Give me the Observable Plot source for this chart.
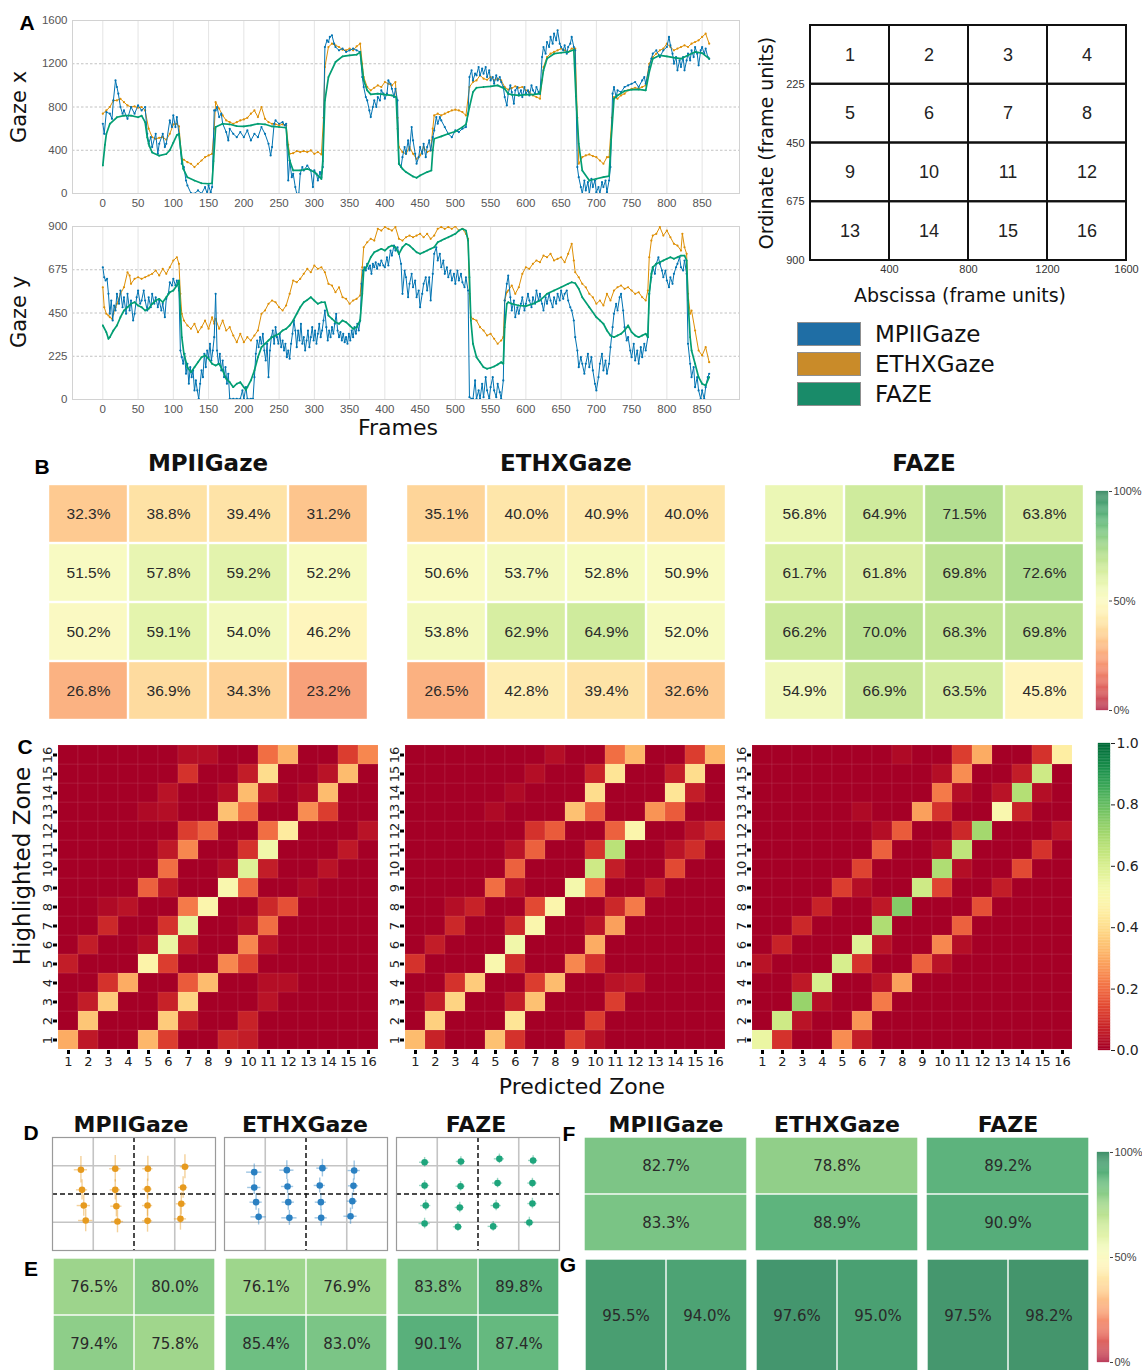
<!DOCTYPE html>
<html>
<head>
<meta charset="utf-8">
<script src="https://cdn.jsdelivr.net/npm/d3@7"></script>
<script src="https://cdn.jsdelivr.net/npm/@observablehq/plot@0.6"></script>
<style>
  html, body { margin: 0; padding: 0; background: #fff; }
  #fig { position: relative; width: 1142px; height: 1370px; overflow: hidden; background: #fff; }
  .t { position: absolute; line-height: 1; white-space: nowrap; color: #111; }
  .sw { position: absolute; width: 62px; height: 22px; border: 1px solid #8f8f8f; }
</style>
</head>
<body>
<div id="fig"></div>
<script>
// ---------- shared categories ----------
const models = ["MPIIGaze", "ETHXGaze", "FAZE"];
const zones = [1, 2, 3, 4, 5, 6, 7, 8, 9, 10, 11, 12, 13, 14, 15, 16];
const frameTicks = [0, 50, 100, 150, 200, 250, 300, 350, 400, 450, 500, 550, 600, 650, 700, 750, 800, 850];
const gazeXTicks = [0, 400, 800, 1200, 1600];
const gazeYTicks = [0, 225, 450, 675, 900];
const xEdges = [0, 400, 800, 1200, 1600];
const yEdges = [0, 225, 450, 675, 900];
const lineColors = {MPIIGaze: "#0173b2", ETHXGaze: "#de8f05", FAZE: "#029e73"};
const swatchColors = {MPIIGaze: "#1f6ea5", ETHXGaze: "#c98b29", FAZE: "#198b69"};
const plain = d => String(d);

// ---------- A: gaze traces, [frame, value] ----------
const mpiiX = [[0,645],[2,552],[5,753],[10,738],[13,691],[15,861],[18,1046],[20,985],[22,923],[25,800],[28,738],[30,768],[35,691],[40,800],[45,738],[50,815],[55,768],[60,800],[63,552],[65,460],[68,521],[70,429],[75,552],[78,367],[80,460],[85,552],[88,429],[90,460],[95,676],[98,614],[100,722],[103,614],[105,707],[108,552],[112,275],[115,244],[118,120],[120,74],[125,3],[130,0],[135,28],[140,0],[145,59],[148,0],[150,74],[153,12],[155,59],[158,768],[160,768],[162,800],[165,707],[168,738],[170,645],[175,568],[178,491],[180,599],[185,552],[190,521],[195,568],[200,521],[205,583],[210,491],[215,552],[220,521],[225,614],[230,552],[235,460],[238,352],[240,429],[243,645],[245,676],[250,645],[255,660],[258,630],[260,645],[263,120],[265,305],[268,151],[270,182],[273,59],[275,0],[278,0],[280,182],[283,244],[285,213],[290,259],[295,213],[298,59],[300,213],[303,182],[305,120],[308,198],[310,151],[312,244],[315,1355],[318,1417],[320,1401],[322,1448],[325,1463],[328,1386],[330,1355],[335,1324],[340,1340],[345,1309],[350,1324],[355,1340],[360,1324],[365,1309],[368,1077],[370,985],[373,892],[375,861],[378,768],[380,707],[383,800],[385,861],[388,800],[390,892],[393,861],[395,954],[398,923],[400,877],[403,923],[405,1046],[408,1015],[410,969],[413,892],[415,969],[418,861],[420,275],[423,244],[425,336],[428,429],[430,367],[433,491],[435,398],[438,614],[440,491],[443,367],[445,275],[448,336],[450,429],[453,367],[455,460],[458,336],[460,429],[463,491],[465,398],[468,521],[470,583],[473,707],[475,645],[478,707],[480,676],[485,614],[490,552],[495,521],[500,583],[505,568],[510,599],[515,614],[518,738],[520,1077],[523,1139],[525,1046],[528,1108],[530,1093],[533,1170],[535,1093],[538,1154],[540,1108],[543,1170],[545,1077],[548,1139],[550,1046],[553,1077],[555,1015],[558,1093],[560,1046],[563,1077],[565,1031],[568,985],[570,892],[573,815],[575,923],[578,1000],[580,938],[583,830],[585,954],[588,985],[590,907],[593,954],[595,892],[598,985],[600,923],[603,954],[605,907],[608,1000],[610,954],[613,923],[615,985],[618,938],[620,923],[623,1262],[625,1355],[628,1293],[630,1401],[633,1355],[635,1448],[638,1386],[640,1478],[643,1417],[645,1509],[648,1386],[650,1355],[653,1324],[655,1370],[658,1293],[660,1355],[663,1386],[665,1448],[668,1355],[670,1324],[673,244],[675,151],[678,59],[680,0],[683,120],[685,28],[688,105],[690,0],[693,136],[695,59],[698,120],[700,12],[703,59],[705,0],[708,105],[710,59],[713,120],[715,12],[718,120],[720,244],[723,923],[725,985],[728,892],[730,954],[735,938],[740,985],[745,1000],[750,1015],[755,1031],[760,985],[765,1046],[768,1077],[770,1015],[775,1170],[778,1247],[780,1293],[785,1324],[790,1262],[795,1324],[800,1355],[803,1448],[805,1370],[808,1293],[810,1200],[813,1262],[815,1139],[818,1231],[820,1170],[823,1262],[825,1139],[828,1231],[830,1293],[833,1231],[835,1324],[838,1262],[840,1355],[843,1293],[845,1185],[848,1324],[850,1355],[853,1293],[855,1340],[858,1262],[860,1247]];
const ethX = [[0,738],[5,768],[10,800],[15,860],[20,861],[25,876],[30,845],[35,815],[40,800],[45,805],[50,793],[55,800],[60,768],[65,600],[70,520],[75,506],[80,515],[85,522],[90,497],[95,552],[100,640],[105,645],[108,620],[112,321],[115,312],[120,290],[125,275],[130,244],[135,275],[140,305],[145,336],[150,352],[155,367],[158,600],[160,845],[165,785],[170,722],[175,676],[180,660],[185,645],[190,660],[195,676],[200,685],[205,700],[210,738],[215,768],[220,707],[225,800],[230,691],[235,660],[240,645],[245,640],[250,630],[255,640],[260,630],[263,450],[265,367],[270,373],[275,392],[280,383],[285,392],[290,383],[295,398],[300,367],[305,383],[310,361],[313,700],[315,1170],[320,1355],[325,1386],[330,1370],[335,1355],[340,1330],[345,1324],[350,1340],[355,1324],[360,1361],[365,1386],[368,1200],[370,1077],[375,985],[380,954],[385,978],[390,1000],[395,985],[400,1031],[405,1015],[410,1000],[415,1031],[418,700],[420,429],[425,383],[430,367],[435,429],[440,367],[445,321],[450,352],[455,429],[460,383],[465,398],[468,600],[470,722],[475,738],[480,722],[485,738],[490,753],[495,768],[500,775],[505,768],[510,753],[515,722],[520,985],[525,1031],[530,1046],[535,1093],[540,1062],[545,1052],[550,1077],[555,1046],[560,1062],[565,1046],[570,985],[575,960],[580,975],[585,991],[590,978],[595,985],[600,954],[605,938],[610,907],[615,892],[620,877],[623,1050],[625,1170],[630,1262],[635,1293],[640,1309],[645,1324],[650,1340],[655,1324],[660,1309],[665,1340],[670,1340],[673,700],[675,275],[680,336],[685,352],[690,361],[695,346],[700,336],[705,305],[710,275],[715,336],[718,336],[722,700],[725,892],[730,877],[735,907],[740,923],[745,954],[750,969],[755,978],[760,969],[765,985],[770,1000],[775,1200],[780,1262],[785,1293],[790,1324],[795,1340],[800,1386],[805,1355],[810,1324],[815,1340],[820,1355],[825,1370],[830,1355],[835,1386],[840,1401],[845,1417],[850,1448],[855,1478],[860,1386]];
const fazeX = [[0,260],[3,450],[5,550],[10,645],[20,705],[30,720],[40,720],[50,705],[55,720],[60,660],[63,520],[66,440],[70,380],[80,350],[90,365],[95,400],[100,470],[105,540],[108,550],[111,380],[114,230],[120,150],[130,120],[140,95],[150,90],[155,95],[157,300],[160,615],[170,645],[180,640],[190,623],[200,620],[210,630],[220,645],[230,640],[240,620],[250,615],[260,608],[262,450],[265,305],[270,213],[280,213],[290,228],[300,198],[310,135],[312,300],[315,860],[320,1077],[330,1216],[340,1268],[350,1278],[360,1284],[365,1308],[368,1150],[370,1046],[375,954],[380,917],[390,923],[400,914],[410,907],[416,892],[418,600],[420,275],[425,228],[430,198],[440,157],[445,145],[450,167],[460,198],[466,213],[468,400],[470,506],[480,528],[490,552],[500,574],[510,614],[515,639],[520,799],[525,938],[530,978],[540,985],[550,991],[560,1000],[570,969],[575,923],[580,914],[590,907],[600,914],[610,914],[620,923],[625,1139],[630,1247],[640,1293],[650,1302],[660,1309],[668,1330],[671,900],[675,460],[680,213],[690,120],[700,136],[710,151],[718,160],[721,500],[725,877],[730,907],[740,948],[750,960],[760,963],[770,954],[775,1123],[780,1247],[790,1278],[800,1268],[810,1256],[820,1247],[830,1278],[840,1309],[850,1299],[860,1247]];

const mpiiY = [[0,688],[2,636],[4,619],[6,628],[8,550],[10,446],[12,515],[14,411],[16,489],[18,463],[20,550],[23,498],[25,567],[28,480],[30,532],[33,446],[35,550],[38,463],[40,515],[43,411],[45,446],[48,532],[50,567],[53,498],[55,515],[58,567],[60,515],[63,463],[65,532],[68,480],[70,550],[73,498],[75,532],[78,480],[80,515],[83,463],[85,498],[88,428],[90,524],[93,550],[95,610],[98,593],[100,628],[103,593],[105,619],[108,567],[110,255],[112,220],[114,186],[116,238],[118,134],[120,186],[122,82],[124,168],[126,116],[128,151],[130,47],[132,99],[134,47],[136,3],[138,82],[140,151],[142,116],[144,238],[146,168],[148,255],[150,220],[152,290],[154,203],[156,255],[158,324],[160,550],[162,255],[164,186],[166,238],[168,151],[170,203],[172,116],[174,168],[176,82],[178,134],[180,3],[185,3],[190,3],[195,3],[198,47],[200,3],[203,64],[205,3],[210,3],[213,3],[215,116],[217,238],[219,307],[221,272],[223,324],[225,290],[227,342],[229,255],[231,203],[233,290],[235,116],[237,255],[239,324],[241,359],[243,290],[245,376],[247,324],[249,290],[251,342],[253,272],[255,307],[257,255],[259,290],[261,220],[263,255],[265,212],[267,290],[269,342],[271,411],[273,359],[275,272],[277,359],[279,307],[281,394],[283,290],[285,324],[287,255],[289,307],[291,359],[293,272],[295,324],[297,376],[299,307],[301,359],[303,290],[305,342],[307,394],[309,324],[311,359],[313,411],[315,463],[317,376],[319,307],[321,359],[323,324],[325,376],[327,342],[329,394],[331,446],[333,359],[335,324],[337,350],[339,307],[341,342],[343,298],[345,324],[347,290],[349,342],[351,307],[353,359],[355,324],[357,376],[359,342],[361,394],[363,359],[365,411],[367,602],[369,671],[371,688],[373,671],[375,706],[377,680],[379,697],[381,654],[383,706],[385,688],[387,714],[389,680],[391,706],[393,697],[395,723],[398,697],[400,688],[403,740],[405,697],[408,775],[410,749],[413,801],[415,775],[418,792],[420,758],[423,706],[425,550],[428,671],[430,636],[433,532],[435,602],[438,654],[440,584],[443,619],[445,532],[448,567],[450,480],[453,550],[455,602],[458,636],[460,567],[463,636],[465,515],[468,654],[470,758],[473,792],[475,723],[478,758],[480,688],[483,723],[485,654],[488,688],[490,636],[493,671],[495,619],[498,654],[500,602],[503,671],[505,619],[508,654],[510,610],[513,584],[515,636],[518,567],[520,12],[523,3],[525,3],[528,99],[530,3],[533,47],[535,3],[538,82],[540,12],[543,116],[545,47],[548,3],[550,64],[553,116],[555,47],[558,12],[560,82],[563,38],[565,3],[568,99],[570,515],[573,602],[575,645],[578,532],[580,463],[583,515],[585,428],[588,480],[590,446],[593,498],[595,532],[598,463],[600,498],[603,550],[605,515],[608,480],[610,532],[613,498],[615,567],[618,515],[620,550],[623,498],[625,463],[628,532],[630,498],[633,550],[635,515],[638,480],[640,532],[643,498],[645,550],[648,515],[650,567],[653,524],[655,550],[658,567],[660,515],[663,480],[665,463],[668,411],[670,324],[673,255],[675,168],[678,220],[680,186],[683,134],[685,186],[688,238],[690,168],[693,220],[695,151],[698,82],[700,47],[703,116],[705,186],[708,238],[710,151],[713,203],[715,134],[718,186],[720,272],[723,376],[725,446],[728,498],[730,463],[733,532],[735,550],[738,463],[740,376],[743,307],[745,324],[748,255],[750,220],[753,290],[755,203],[758,255],[760,186],[763,272],[765,220],[768,290],[770,255],[773,324],[775,550],[778,636],[780,688],[783,654],[785,706],[788,740],[790,706],[793,671],[795,636],[798,671],[800,619],[803,584],[805,636],[808,602],[810,654],[813,688],[815,706],[818,740],[820,688],[823,671],[825,723],[828,654],[830,290],[833,186],[835,116],[838,168],[840,64],[843,116],[845,47],[848,3],[850,47],[853,3],[855,64],[858,116],[860,134]];
const ethY = [[0,584],[2,480],[5,446],[8,437],[10,428],[13,420],[15,446],[18,480],[20,498],[25,550],[30,584],[35,662],[38,645],[40,602],[45,628],[50,636],[55,628],[60,636],[65,645],[70,654],[75,671],[80,645],[85,680],[90,654],[95,688],[100,723],[105,740],[108,706],[110,550],[112,446],[115,411],[120,385],[125,368],[130,394],[135,350],[140,376],[145,411],[150,368],[155,428],[158,394],[160,420],[165,368],[170,411],[175,359],[180,376],[185,333],[190,298],[195,342],[200,298],[205,324],[210,307],[215,333],[220,359],[225,446],[230,463],[235,498],[240,515],[245,506],[250,480],[255,463],[260,489],[265,550],[270,619],[275,610],[280,628],[285,654],[290,680],[295,662],[300,697],[305,680],[310,688],[315,662],[320,602],[325,593],[330,558],[335,584],[340,532],[345,524],[350,498],[355,515],[360,524],[365,541],[368,688],[370,792],[375,818],[380,836],[385,827],[390,888],[395,879],[400,897],[405,888],[410,879],[415,897],[420,836],[425,827],[430,844],[435,853],[440,844],[445,853],[450,862],[455,844],[460,862],[465,836],[470,853],[475,888],[480,897],[485,888],[490,897],[495,888],[500,900],[505,879],[510,888],[515,862],[518,836],[520,550],[522,428],[525,420],[530,411],[535,376],[540,359],[545,333],[550,342],[555,316],[560,290],[565,307],[568,324],[570,515],[573,558],[575,567],[580,593],[585,550],[590,584],[595,654],[600,688],[605,680],[610,706],[615,723],[620,714],[625,749],[630,740],[635,758],[640,723],[645,732],[650,740],[655,714],[660,758],[665,810],[668,723],[670,662],[675,636],[680,602],[685,584],[690,550],[695,532],[700,498],[705,515],[710,489],[715,550],[720,515],[725,567],[730,584],[735,593],[740,576],[745,584],[750,567],[755,550],[760,558],[765,532],[770,515],[773,567],[775,740],[778,827],[780,853],[785,862],[790,897],[795,853],[800,879],[805,844],[810,810],[815,801],[820,775],[822,862],[825,792],[828,758],[830,550],[833,446],[835,463],[840,359],[845,255],[850,229],[855,272],[860,194]];
const fazeY = [[0,385],[5,350],[8,316],[10,324],[15,359],[20,385],[25,428],[30,463],[35,480],[40,498],[45,506],[50,489],[55,480],[60,463],[65,472],[70,498],[75,515],[80,524],[85,506],[90,532],[95,558],[100,567],[105,593],[108,619],[110,463],[112,324],[115,238],[120,168],[125,142],[130,168],[135,194],[140,220],[145,229],[150,212],[155,186],[160,177],[165,186],[170,151],[175,108],[180,90],[185,64],[190,82],[195,90],[200,64],[203,50],[205,64],[210,99],[215,151],[220,220],[225,272],[230,290],[235,307],[240,324],[245,333],[250,342],[255,359],[260,368],[265,385],[270,411],[275,446],[280,480],[285,506],[290,518],[295,532],[300,515],[305,498],[310,506],[315,506],[320,437],[325,420],[330,402],[335,394],[340,411],[345,402],[350,385],[355,368],[360,376],[365,411],[368,550],[370,671],[375,697],[380,740],[385,766],[390,775],[395,784],[400,775],[405,792],[410,801],[415,792],[420,758],[425,792],[430,810],[435,801],[440,784],[445,766],[450,758],[455,766],[460,775],[465,784],[470,792],[475,818],[480,827],[485,836],[490,844],[495,853],[500,862],[505,879],[510,888],[515,879],[518,827],[520,636],[522,411],[525,290],[530,220],[535,194],[540,168],[545,160],[550,165],[555,172],[560,182],[565,194],[568,186],[570,376],[573,498],[575,506],[580,498],[590,489],[600,486],[610,498],[620,515],[630,550],[640,567],[650,584],[660,602],[665,610],[670,605],[675,576],[680,532],[690,480],[700,428],[705,411],[710,394],[715,359],[720,333],[725,324],[730,333],[735,342],[740,359],[745,385],[750,350],[755,333],[760,324],[765,333],[770,342],[773,324],[775,550],[778,654],[780,688],[785,706],[790,714],[795,723],[800,732],[805,740],[810,732],[815,740],[820,749],[825,749],[828,723],[830,515],[833,324],[835,255],[840,186],[845,116],[850,82],[855,73],[860,116]];

// ---------- B: per-zone accuracy (%), rows top to bottom ----------
const zoneAccMPII = [[32.3, 38.8, 39.4, 31.2], [51.5, 57.8, 59.2, 52.2], [50.2, 59.1, 54.0, 46.2], [26.8, 36.9, 34.3, 23.2]];
const zoneAccETHX = [[35.1, 40.0, 40.9, 40.0], [50.6, 53.7, 52.8, 50.9], [53.8, 62.9, 64.9, 52.0], [26.5, 42.8, 39.4, 32.6]];
const zoneAccFAZE = [[56.8, 64.9, 71.5, 63.8], [61.7, 61.8, 69.8, 72.6], [66.2, 70.0, 68.3, 69.8], [54.9, 66.9, 63.5, 45.8]];

// ---------- C: confusion matrices (%), row = highlighted zone 1..16, col = predicted zone 1..16 ----------
const confMPII = [
  [30,5,0,0,32,12,0,0,8,6,0,0,0,0,0,0],
  [0,35,0,0,0,36,6,0,0,7,0,0,0,0,0,0],
  [0,6,36,0,0,7,38,0,0,0,4,0,0,0,0,0],
  [0,0,10,30,0,0,17,33,0,0,3,3,0,0,0,0],
  [6,0,0,0,47,12,0,0,24,13,0,0,0,0,0,0],
  [0,6,0,0,3,55,6,0,0,24,4,0,0,0,0,0],
  [0,0,8,0,0,10,56,0,0,3,20,0,0,0,0,0],
  [0,0,2,4,0,0,22,48,0,0,8,15,0,0,0,0],
  [0,0,0,0,18,5,0,0,50,18,0,0,2,0,0,0],
  [0,0,0,0,0,20,0,0,3,58,6,0,0,4,0,0],
  [0,0,0,0,0,5,24,0,0,10,53,0,0,0,5,0],
  [0,0,0,0,0,0,12,18,0,0,20,44,0,0,0,4],
  [0,0,0,0,2,3,0,0,34,20,0,0,25,12,0,0],
  [0,0,0,0,0,4,0,0,3,33,5,0,2,33,0,0],
  [0,0,0,0,0,0,10,0,0,6,40,0,0,4,33,0],
  [0,0,0,0,0,0,3,3,0,0,20,31,0,0,12,24]
];
const confETHX = [
  [33,7,0,0,34,10,0,0,12,4,0,0,0,0,0,0],
  [0,37,0,0,0,42,0,0,0,12,0,0,0,0,0,0],
  [0,6,38,0,0,6,34,0,0,0,12,0,0,0,0,0],
  [0,0,10,36,0,0,12,33,0,0,4,5,0,0,0,0],
  [10,0,0,0,50,9,0,0,24,10,0,0,0,0,0,0],
  [0,6,0,0,0,53,0,0,0,30,0,0,0,0,0,0],
  [0,0,8,0,0,8,49,0,0,4,28,0,0,0,0,0],
  [0,0,3,7,0,0,14,48,0,0,8,22,0,0,0,0],
  [0,0,0,0,20,4,0,0,52,20,0,0,6,0,0,0],
  [0,0,0,0,0,18,0,0,0,62,6,0,0,14,0,0],
  [0,0,0,0,0,4,18,0,0,10,66,0,0,4,9,0],
  [0,0,0,0,0,0,10,17,0,0,18,48,0,0,4,8],
  [0,0,0,0,2,0,0,0,34,18,0,0,26,17,0,0],
  [0,0,0,0,0,2,0,0,0,40,0,0,0,42,6,0],
  [0,0,0,0,0,0,3,0,0,7,42,0,0,6,40,0],
  [0,0,0,0,0,0,0,3,0,0,20,32,0,0,12,32]
];
const confFAZE = [
  [55,10,0,0,25,6,0,0,0,0,0,0,0,0,0,0],
  [0,62,4,0,0,26,0,0,0,0,0,0,0,0,0,0],
  [0,0,72,3,0,0,22,0,0,0,0,0,0,0,0,0],
  [0,0,5,60,0,0,4,28,0,0,0,0,0,0,0,0],
  [4,0,0,0,60,10,0,0,18,4,0,0,0,0,0,0],
  [0,7,0,0,0,58,4,0,0,24,3,0,0,0,0,0],
  [0,0,8,0,0,0,68,0,0,0,18,0,0,0,0,0],
  [0,0,0,7,0,0,5,75,0,0,0,15,0,0,0,0],
  [0,0,0,0,12,3,0,0,62,13,0,0,6,0,0,0],
  [0,0,0,0,0,13,0,0,0,68,3,0,0,14,0,0],
  [0,0,0,0,0,0,18,0,0,3,65,0,0,0,10,0],
  [0,0,0,0,0,0,3,17,0,0,8,70,0,0,0,4],
  [0,0,0,0,0,2,0,0,28,10,0,0,50,7,0,0],
  [0,0,0,0,0,0,0,0,0,22,3,0,4,67,3,0],
  [0,0,0,0,0,0,0,0,0,3,25,0,0,6,62,0],
  [0,0,0,0,0,0,0,2,0,0,12,30,0,0,10,45]
];

// ---------- D: mean gaze per zone with spread, [x, y, ex, ey] in screen px ----------
const meanMPII = [[279,257,65,105],[616,249,55,105],[936,249,50,100],[1300,233,45,95],[290,417,55,80],[616,417,50,80],[933,411,45,80],[1282,398,45,85],[307,542,65,85],[627,547,55,85],[933,542,50,85],[1264,528,50,90],[326,661,70,90],[638,669,60,90],[933,664,50,90],[1256,648,60,90]];
const meanETHX = [[292,276,75,65],[612,260,70,75],[961,244,55,70],[1273,263,60,75],[292,398,65,55],[619,390,60,55],[935,382,55,60],[1266,385,50,55],[310,515,60,65],[626,515,60,65],[946,515,55,65],[1255,507,50,65],[335,632,75,65],[637,640,75,60],[949,640,60,65],[1237,627,65,65]];
const meanFAZE = [[276,197,50,38],[632,191,45,38],[1010,170,50,38],[1341,183,45,38],[276,382,50,38],[629,388,45,38],[992,363,50,38],[1334,363,45,38],[287,542,50,42],[621,557,45,42],[978,542,50,42],[1334,526,45,42],[276,685,55,42],[603,711,45,38],[949,708,50,38],[1304,677,45,42]];
const meanColors = {MPIIGaze: "#e69a1e", ETHXGaze: "#2a80c2", FAZE: "#1ea57c"};
const quarterX = [400, 1200], halfX = [800], quarterY = [225, 675], halfY = [450];

// ---------- E, F, G: coarse-zone accuracy (%) ----------
const quadMPII = [[76.5, 80.0], [79.4, 75.8]];
const quadETHX = [[76.1, 76.9], [85.4, 83.0]];
const quadFAZE = [[83.8, 89.8], [90.1, 87.4]];
const rowsMPII = [[82.7], [83.3]];
const rowsETHX = [[78.8], [88.9]];
const rowsFAZE = [[89.2], [90.9]];
const colsMPII = [[95.5, 94.0]];
const colsETHX = [[97.6, 95.0]];
const colsFAZE = [[97.5, 98.2]];

// ---------- helpers ----------
const fig = document.getElementById("fig");
function place(node, left, top) {
  Object.assign(node.style, {position: "absolute", left: left + "px", top: top + "px", background: "transparent", overflow: "visible", maxWidth: "none"});
  fig.appendChild(node);
  return node;
}
function label(str, cx, cy, {size = 20, weight = "normal", family = "DejaVu Sans, sans-serif", rotate = 0, color = "#111"} = {}) {
  const d = document.createElement("div");
  d.className = "t";
  d.textContent = str;
  Object.assign(d.style, {left: cx + "px", top: cy + "px", fontSize: size + "px", fontWeight: weight, fontFamily: family, color,
    transform: `translate(-50%,-50%) rotate(${rotate}deg)`});
  fig.appendChild(d);
}
const panelFont = "Liberation Sans, Arial, sans-serif";
function panelLetter(ch, cx, cy) { label(ch, cx, cy, {size: 21, weight: "bold", family: panelFont, color: "#000"}); }

// soft RdYlGn: the diverging scheme laid over white at 75%
const softRdYlGn = t => d3.interpolateRgb("#ffffff", d3.interpolateRdYlGn(t))(0.75);

// ---------- A: gaze traces ----------
function gazePanel(series, yTicks, height, mt, mb) {
  return Plot.plot({
    width: 745, height, marginLeft: 72, marginRight: 6, marginTop: mt, marginBottom: mb,
    style: {fontFamily: panelFont, fontSize: "11.5px", color: "#555"},
    x: {domain: [-43, 903]},
    y: {domain: [0, yTicks[yTicks.length - 1]]},
    marks: [
      Plot.gridX(frameTicks, {stroke: "#e4e4e4", strokeOpacity: 1}),
      Plot.gridY(yTicks, {stroke: "#c2c2c2", strokeOpacity: 1, strokeDasharray: "2.5,2"}),
      Plot.frame({stroke: "#d2d2d2"}),
      Plot.axisX(frameTicks, {tickSize: 0, tickPadding: 5, tickFormat: plain, label: null}),
      Plot.axisY(yTicks, {tickSize: 0, tickPadding: 5, tickFormat: plain, label: null}),
      ...series.flatMap(s => [
        Plot.line(s.data, {x: d => d[0], y: d => d[1], stroke: lineColors[s.model], strokeWidth: s.w, clip: true}),
        Plot.dot(s.data, {x: d => d[0], y: d => d[1], r: s.r, fill: lineColors[s.model], stroke: null, clip: true})
      ])
    ]
  });
}
place(gazePanel([
  {model: "ETHXGaze", data: ethX, w: 1, r: 1.1},
  {model: "MPIIGaze", data: mpiiX, w: 1, r: 1.1},
  {model: "FAZE", data: fazeX, w: 1.7, r: 0.9}
], gazeXTicks, 215, 20, 22), 0, 0);
place(gazePanel([
  {model: "ETHXGaze", data: ethY, w: 1, r: 1.1},
  {model: "MPIIGaze", data: mpiiY, w: 1, r: 1.1},
  {model: "FAZE", data: fazeY, w: 1.7, r: 0.9}
], gazeYTicks, 214, 20, 21), 0, 206);
panelLetter("A", 27, 22);
label("Gaze x", 19, 107, {size: 21, rotate: -90});
label("Gaze y", 19, 312, {size: 21, rotate: -90});
label("Frames", 398, 428, {size: 22});

// screen zone layout
const zoneRects = zones.map(z => {
  const c = (z - 1) % 4, r = Math.floor((z - 1) / 4);
  return {zone: z, x1: xEdges[c], x2: xEdges[c + 1], y1: yEdges[r], y2: yEdges[r + 1]};
});
place(Plot.plot({
  width: 397, height: 300, marginLeft: 65, marginRight: 16, marginTop: 25, marginBottom: 40,
  style: {fontFamily: panelFont, fontSize: "11px", color: "#333"},
  x: {domain: [0, 1600]},
  y: {domain: [0, 900], reverse: true},
  marks: [
    Plot.rect(zoneRects, {x1: "x1", x2: "x2", y1: "y1", y2: "y2", fill: "none", stroke: "#111", strokeWidth: 2}),
    Plot.text(zoneRects, {x: d => (d.x1 + d.x2) / 2, y: d => (d.y1 + d.y2) / 2, text: d => String(d.zone), fontSize: 18, fill: "#222"}),
    Plot.axisX(xEdges.slice(1), {tickSize: 0, tickPadding: 5, tickFormat: plain, label: null}),
    Plot.axisY(yEdges.slice(1), {tickSize: 0, tickPadding: 6, tickFormat: plain, label: null})
  ]
}), 745, 0);
label("Ordinate (frame units)", 766, 143, {size: 19, rotate: -90});
label("Abscissa (frame units)", 960, 295, {size: 19});

// legend
models.forEach((m, i) => {
  const sw = document.createElement("div");
  sw.className = "sw";
  Object.assign(sw.style, {left: "797px", top: (322 + i * 30) + "px", background: swatchColors[m]});
  fig.appendChild(sw);
  const t = document.createElement("div");
  t.className = "t";
  t.textContent = m;
  Object.assign(t.style, {left: "875px", top: (334 + i * 30) + "px", transform: "translateY(-50%)", fontSize: "23px", fontFamily: "DejaVu Sans, sans-serif"});
  fig.appendChild(t);
});

// ---------- percentage heat grids (B, E, F, G) ----------
function pctGrid(rows, width, height, fontSize, fontFamily, inset) {
  const data = rows.flatMap((r, i) => r.map((v, j) => ({row: i, col: j, v})));
  return Plot.plot({
    width, height, margin: 0,
    x: {type: "band", domain: d3.range(rows[0].length), padding: 0, axis: null},
    y: {type: "band", domain: d3.range(rows.length), padding: 0, axis: null},
    color: {type: "linear", domain: [0, 100], interpolate: softRdYlGn},
    marks: [
      Plot.cell(data, {x: "col", y: "row", fill: "v", inset}),
      Plot.text(data, {x: "col", y: "row", text: d => d.v.toFixed(1) + "%", fontSize, fontFamily, fill: "#2a2a2a"})
    ]
  });
}
function pctBar(height) {
  const steps = d3.range(0, 100, 0.5);
  return Plot.plot({
    width: 62, height: height + 16, marginLeft: 0, marginRight: 50, marginTop: 8, marginBottom: 8,
    style: {fontFamily: panelFont, fontSize: "11px", color: "#444"},
    x: {domain: [0, 1], axis: null},
    y: {domain: [0, 100]},
    color: {type: "linear", domain: [0, 100], interpolate: softRdYlGn},
    marks: [
      Plot.rect(steps, {x1: () => 0, x2: () => 1, y1: d => d, y2: d => d + 0.5, fill: d => d, stroke: d => d, strokeWidth: 0.3}),
      Plot.axisY([0, 50, 100], {anchor: "right", tickSize: 3, tickPadding: 2, tickFormat: d => d + "%", label: null})
    ]
  });
}

// ---------- B ----------
panelLetter("B", 42, 466);
[zoneAccMPII, zoneAccETHX, zoneAccFAZE].forEach((g, i) => {
  const left = [48, 406, 764][i];
  place(pctGrid(g, 320, 239, 15.5, panelFont, 1.2), left, 482);
  label(models[i], left + 160, 463, {size: 23, weight: "bold"});
});
place(pctBar(219), 1096, 483);

// ---------- C ----------
panelLetter("C", 25, 746);
function confusion(mat) {
  const data = mat.flatMap((row, i) => row.map((v, j) => ({hz: zones[i], pz: zones[j], v})));
  return Plot.plot({
    width: 355, height: 339, marginLeft: 30, marginRight: 4, marginTop: 6, marginBottom: 26,
    style: {fontFamily: "DejaVu Sans, sans-serif", fontSize: "13px", color: "#222"},
    x: {type: "band", domain: zones, padding: 0},
    y: {type: "band", domain: zones.slice().reverse(), padding: 0},
    color: {type: "linear", domain: [0, 100], interpolate: d3.interpolateRdYlGn},
    marks: [
      Plot.cell(data, {x: "pz", y: "hz", fill: "v", stroke: "#ffffff", strokeOpacity: 0.12, strokeWidth: 0.6}),
      Plot.axisX({tickSize: 4, strokeWidth: 3, stroke: "#000", tickPadding: 2, label: null}),
      Plot.axisY({tickSize: 4, strokeWidth: 3, stroke: "#000", tickPadding: 2, tickRotate: -90, label: null})
    ]
  });
}
[confMPII, confETHX, confFAZE].forEach((m, i) => place(confusion(m), [27, 374, 721][i], 737));
place(Plot.plot({
  width: 56, height: 323, marginLeft: 0, marginRight: 44, marginTop: 8, marginBottom: 8,
  style: {fontFamily: "DejaVu Sans, sans-serif", fontSize: "14px", color: "#222"},
  x: {domain: [0, 1], axis: null},
  y: {domain: [0, 100]},
  color: {type: "linear", domain: [0, 100], interpolate: d3.interpolateRdYlGn},
  marks: [
    Plot.rect(d3.range(0, 100, 0.5), {x1: () => 0, x2: () => 1, y1: d => d, y2: d => d + 0.5, fill: d => d, stroke: d => d, strokeWidth: 0.3}),
    Plot.axisY([0, 20, 40, 60, 80, 100], {anchor: "right", tickSize: 4, tickPadding: 2, tickFormat: d => (d / 100).toFixed(1), label: null})
  ]
}), 1098, 735);
label("Highlighted Zone", 22, 866, {size: 23, rotate: -90});
label("Predicted Zone", 582, 1087, {size: 22});

// ---------- D ----------
panelLetter("D", 31, 1132);
[meanMPII, meanETHX, meanFAZE].forEach((pts, i) => {
  const col = meanColors[models[i]];
  const data = pts.map(([x, y, ex, ey]) => ({x, y, ex, ey}));
  place(Plot.plot({
    width: 165, height: 115, margin: 1,
    x: {domain: [0, 1600], axis: null},
    y: {domain: [0, 900], reverse: true, axis: null},
    marks: [
      Plot.ruleX(quarterX, {stroke: "#c4c4c4", strokeWidth: 1.6}),
      Plot.ruleY(quarterY, {stroke: "#c4c4c4", strokeWidth: 1.6}),
      Plot.ruleX(halfX, {stroke: "#111", strokeWidth: 1.5, strokeDasharray: "5,3"}),
      Plot.ruleY(halfY, {stroke: "#111", strokeWidth: 1.5, strokeDasharray: "5,3"}),
      Plot.frame({stroke: "#9a9a9a", strokeWidth: 1.2}),
      Plot.ruleX(data, {x: "x", y1: d => d.y - d.ey, y2: d => d.y + d.ey, stroke: col, strokeOpacity: 0.45, strokeWidth: 1.4}),
      Plot.ruleY(data, {y: "y", x1: d => d.x - d.ex, x2: d => d.x + d.ex, stroke: col, strokeOpacity: 0.45, strokeWidth: 1.4}),
      Plot.dot(data, {x: "x", y: "y", r: 3.3, fill: col, stroke: null})
    ]
  }), [51, 223, 395][i], 1136);
  label(models[i], [131, 305, 476][i], 1125, {size: 22, weight: "bold"});
});

// ---------- E ----------
panelLetter("E", 31, 1268);
[quadMPII, quadETHX, quadFAZE].forEach((g, i) => place(pctGrid(g, 163, 114, 15, "DejaVu Sans, sans-serif", 0.7), [52, 224, 396][i], 1258));

// ---------- F, G ----------
panelLetter("F", 569, 1133);
panelLetter("G", 568, 1264);
[rowsMPII, rowsETHX, rowsFAZE].forEach((g, i) => {
  const left = [584, 755, 926][i];
  place(pctGrid(g, 163, 114, 15, "DejaVu Sans, sans-serif", 0.7), left, 1137);
  label(models[i], left + 82, 1125, {size: 22, weight: "bold"});
});
[colsMPII, colsETHX, colsFAZE].forEach((g, i) => place(pctGrid(g, 163, 113, 15, "DejaVu Sans, sans-serif", 0.7), [584, 755, 926][i], 1259));
place(pctBar(210), 1097, 1144);
</script>
</body>
</html>
